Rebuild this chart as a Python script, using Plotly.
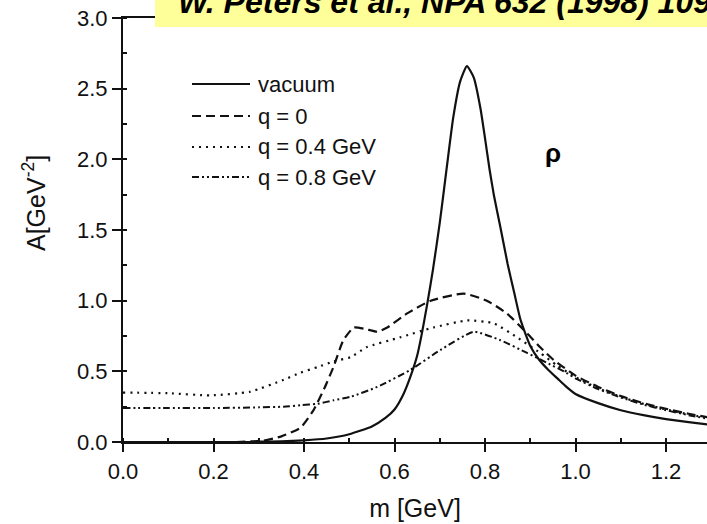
import plotly.graph_objects as go

# ---- data ----
m_vac = [0.0, 0.28, 0.30, 0.35, 0.40, 0.45, 0.50, 0.55, 0.58, 0.60, 0.62, 0.635, 0.65, 0.66, 0.672,
         0.685, 0.70, 0.715, 0.73, 0.745, 0.76, 0.775, 0.79, 0.80, 0.81, 0.82, 0.834, 0.85, 0.865,
         0.878, 0.89, 0.90, 0.92, 0.94, 0.96, 0.98, 1.0, 1.05, 1.1, 1.15, 1.2, 1.25, 1.30]
A_vac = [0.0, 0.0, 0.002, 0.005, 0.012, 0.025, 0.055, 0.11, 0.17, 0.23, 0.34, 0.46, 0.61, 0.76, 0.97,
         1.22, 1.55, 1.93, 2.3, 2.55, 2.66, 2.58, 2.36, 2.15, 1.93, 1.74, 1.52, 1.26, 1.05,
         0.87, 0.76, 0.68, 0.58, 0.51, 0.45, 0.39, 0.34, 0.275, 0.225, 0.19, 0.162, 0.14, 0.122]

m_q0 = [0.25, 0.31, 0.35, 0.392, 0.42, 0.445, 0.465, 0.487, 0.51, 0.535, 0.562, 0.584, 0.628, 0.68,
        0.753, 0.804, 0.848, 0.893, 0.922, 0.952, 1.0, 1.05, 1.1, 1.15, 1.2, 1.25, 1.30]
A_q0 = [0.0, 0.01, 0.04, 0.10, 0.22, 0.38, 0.53, 0.72, 0.81, 0.80, 0.78, 0.81, 0.91, 1.0,
        1.05, 1.0, 0.91, 0.77, 0.67, 0.58, 0.47, 0.39, 0.325, 0.275, 0.235, 0.2, 0.17]

m_q04 = [0.0, 0.1, 0.193, 0.28, 0.355, 0.392, 0.43, 0.465, 0.503, 0.538, 0.612, 0.686, 0.761, 0.819,
         0.871, 0.922, 0.96, 1.0, 1.05, 1.1, 1.15, 1.2, 1.25, 1.30]
A_q04 = [0.35, 0.345, 0.33, 0.355, 0.44, 0.49, 0.53, 0.57, 0.60, 0.67, 0.74, 0.81, 0.86, 0.84,
         0.74, 0.63, 0.54, 0.46, 0.38, 0.32, 0.27, 0.23, 0.195, 0.165]

m_q08 = [0.0, 0.1, 0.2, 0.3, 0.355, 0.392, 0.43, 0.465, 0.503, 0.562, 0.635, 0.701, 0.775, 0.834,
         0.893, 0.937, 0.98, 1.0, 1.05, 1.1, 1.15, 1.2, 1.25, 1.30]
A_q08 = [0.24, 0.24, 0.24, 0.245, 0.25, 0.26, 0.27, 0.295, 0.32, 0.39, 0.51, 0.65, 0.78, 0.72,
         0.63, 0.56, 0.49, 0.45, 0.375, 0.315, 0.265, 0.225, 0.19, 0.16]

series_names = ["vacuum", "q = 0", "q = 0.4 GeV", "q = 0.8 GeV"]
x_ticks = [0.0, 0.2, 0.4, 0.6, 0.8, 1.0, 1.2]
y_ticks = [0.0, 0.5, 1.0, 1.5, 2.0, 2.5, 3.0]

W, H = 707, 524
L, R, T, B = 123, 0, 18, 82
pw, ph = W - L - R, H - T - B

def px(xp):
    return (xp - L) / pw

def py(yp):
    return (H - B - yp) / ph

INK = "#111111"
styles = [
    dict(color=INK, width=2.2, dash="solid"),
    dict(color=INK, width=2.2, dash="9px,5px"),
    dict(color=INK, width=2.2, dash="2px,5px"),
    dict(color=INK, width=2.0, dash="7px,3px,2px,3px,2px,3px"),
]

fig = go.Figure()
for (mx, ay), nm, st in zip([(m_vac, A_vac), (m_q0, A_q0), (m_q04, A_q04), (m_q08, A_q08)],
                            series_names, styles):
    fig.add_trace(go.Scatter(x=mx, y=ay, mode="lines", name=nm, showlegend=False,
                             line=dict(shape="spline", smoothing=0.5, **st)))

font_main = "Liberation Sans, Arial, sans-serif"

fig.update_layout(
    width=W, height=H,
    margin=dict(l=L, r=R, t=T, b=B, pad=0),
    paper_bgcolor="white", plot_bgcolor="white",
    font=dict(family=font_main, color=INK, size=22),
    showlegend=False,
)

fig.update_xaxes(range=[0, (W - L) / 452.5], tickvals=x_ticks,
                 ticktext=[f"{v:.1f}" for v in x_ticks],
                 showgrid=False, zeroline=False, showline=True, linecolor=INK, linewidth=2,
                 mirror=True, ticks="outside", ticklen=8, tickwidth=2, tickcolor=INK,
                 ticklabelstandoff=1,
                 minor=dict(dtick=0.1, ticks="inside", ticklen=4, tickwidth=1.5, tickcolor=INK),
                 title=dict(text="m [GeV]", font=dict(size=25), standoff=16))
fig.update_yaxes(range=[0, 3.0], tickvals=y_ticks, ticktext=[f"{v:.1f}" for v in y_ticks],
                 showgrid=False, zeroline=False, showline=True, linecolor=INK, linewidth=2,
                 ticks="outside", ticklen=9, tickwidth=2, tickcolor=INK,
                 minor=dict(dtick=0.25, ticks="inside", ticklen=4, tickwidth=1.5, tickcolor=INK))

# legend (drawn manually to get the long line samples of the original)
legend_rows = [84, 116, 147, 177]
for nm, st, yr in zip(series_names, styles, legend_rows):
    fig.add_shape(type="line", xref="paper", yref="paper", x0=px(192), x1=px(250),
                  y0=py(yr), y1=py(yr), line=dict(color=st["color"], width=st["width"], dash=st["dash"]))
    fig.add_annotation(x=px(256), y=py(yr), xref="paper", yref="paper", text=nm, showarrow=False,
                       xanchor="left", yanchor="middle", font=dict(size=22, color=INK))

# y-axis title
fig.add_annotation(x=px(34), y=py(203), xref="paper", yref="paper", text="A[GeV<sup>-2</sup>]",
                   textangle=-90, showarrow=False, font=dict(size=25, color=INK),
                   xanchor="center", yanchor="middle")

# rho label
fig.add_annotation(x=px(553), y=py(153), xref="paper", yref="paper", text="<b>ρ</b>",
                   showarrow=False, font=dict(size=26, color="black", family="Arial, Liberation Sans"),
                   xanchor="center", yanchor="middle")

# yellow citation banner
fig.add_shape(type="rect", xref="paper", yref="paper", x0=px(155), x1=1.02, y0=py(27), y1=py(-10),
              fillcolor="#FFFF99", line=dict(width=0), layer="above")
fig.add_annotation(x=px(176), y=py(22), xref="paper", yref="paper",
                   text="<b><i>W. Peters et al., NPA 632 (1998) 109</i></b>",
                   showarrow=False, xanchor="left", yanchor="bottom",
                   font=dict(size=32, color="black", family="Arial, Liberation Sans"))

fig.write_html("out.html")
